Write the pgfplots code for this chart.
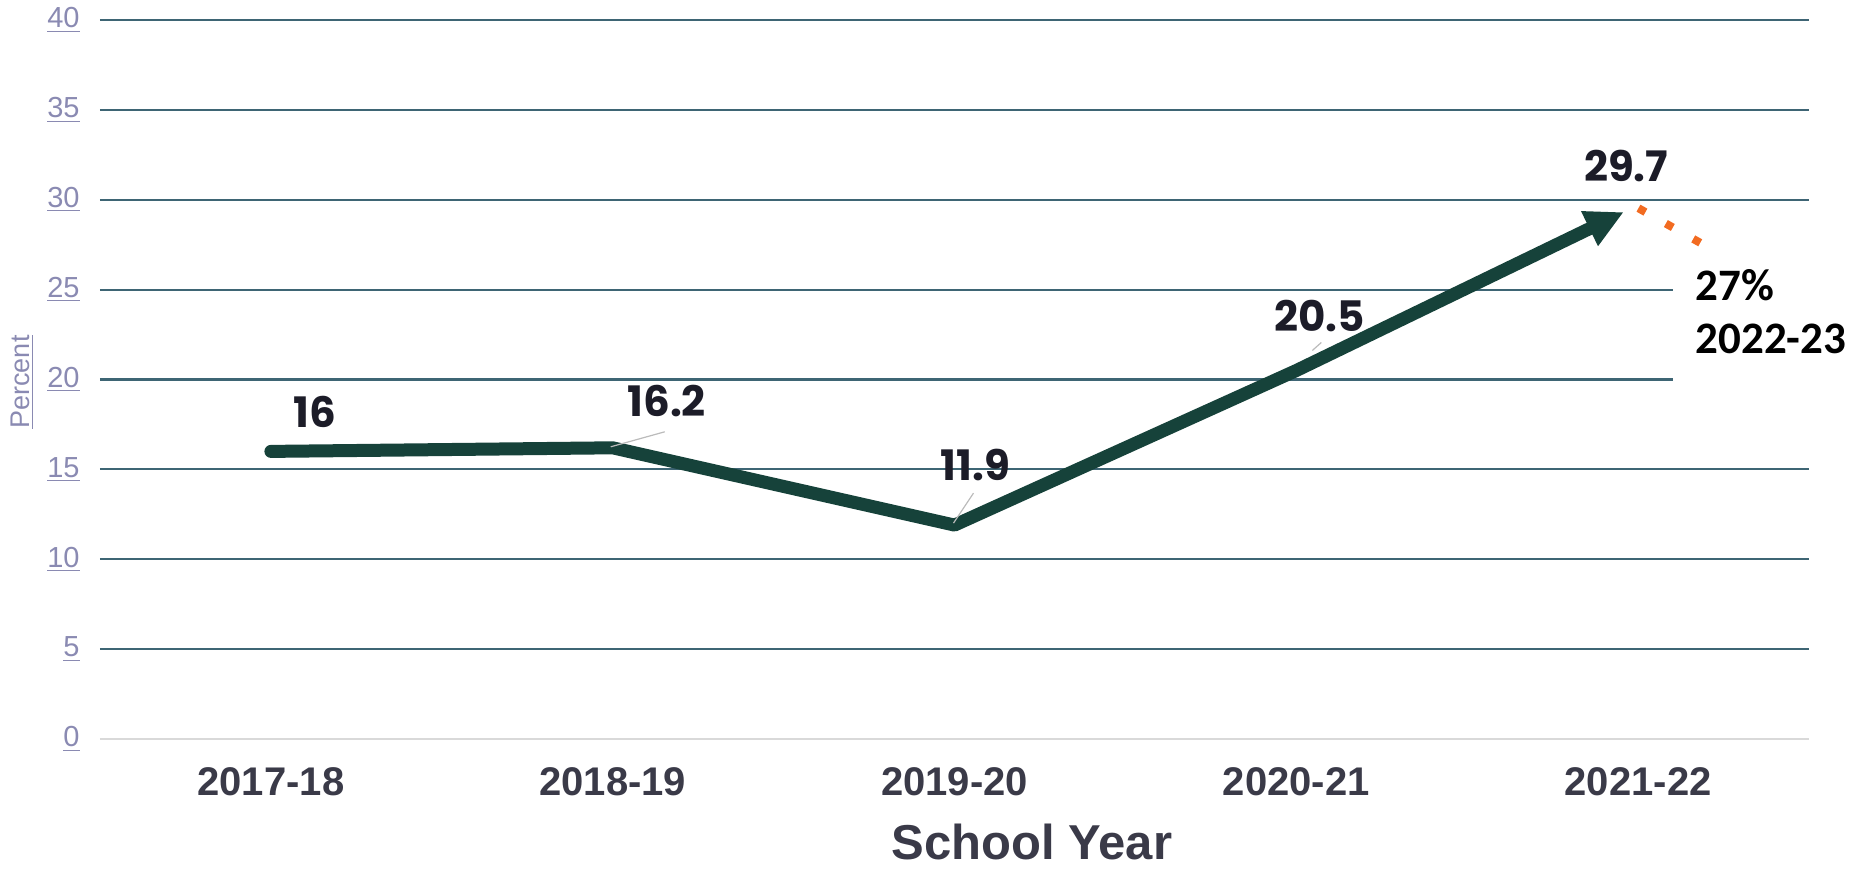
\documentclass[border=0pt]{standalone}
\usepackage{fontspec}
\setmainfont{Liberation Sans}
\newfontfamily\poppins{Poppins}
\newfontfamily\carlito{Carlito}
\usepackage{pgfplots}
\pgfplotsset{compat=1.18}
\usepackage{pgfplotstable}
\usetikzlibrary{arrows.meta}
\definecolor{linegreen}{HTML}{16423A}
\definecolor{gridteal}{HTML}{3E6574}
\definecolor{tickpurple}{HTML}{8A8AB2}
\definecolor{darktext}{HTML}{3A3A48}
\definecolor{orangedot}{HTML}{F26B21}
\definecolor{zeroline}{HTML}{D9D9D9}
\definecolor{leader}{HTML}{BBBBBB}
\definecolor{labelblack}{HTML}{1C1C28}

\pgfplotstableread{
x y dx dy
0 16 22 19.5
1 16.2 27 23.5
2 11.9 10.5 30
3 20.5 11.5 27.5
4 29.7 -6 19.5
}\yeardata

\pgfplotstableread{
x y
4.001 29.53
4.183 27.59
}\projdata

\begin{document}
\begin{tikzpicture}
\useasboundingbox (-50pt,-64.5pt) rectangle (875.5pt,369.5pt);
\begin{axis}[
  at={(0,0)}, anchor=south west,
  scale only axis, width=854.5pt, height=359.5pt,
  xmin=-0.5, xmax=4.5, ymin=0, ymax=40,
  axis line style={draw=none},
  major tick length=0pt,
  xtick={0,1,2,3,4},
  xticklabels={2017-18,2018-19,2019-20,2020-21,2021-22},
  xticklabel style={anchor=center, yshift=-21.25pt, font=\fontsize{20}{24}\selectfont\bfseries, text=darktext},
  ytick={5,10,...,40},
  extra y ticks={0},
  extra y tick style={grid style={draw=zeroline, line width=1pt}},
  ymajorgrids,
  grid style={draw=gridteal, line width=1.1pt},
  yticklabel={\underline{\pgfmathprintnumber{\tick}}},
  yticklabel style={anchor=east, inner sep=0pt, xshift=-10pt, font=\fontsize{14.5}{16}\selectfont, text=tickpurple},
  /pgf/number format/assume math mode=true,
  xlabel={School Year},
  every axis x label/.style={at={(rel axis cs:0.5,0)}, anchor=center, inner sep=0pt, xshift=38.75pt, yshift=-51.5pt, font=\fontsize{24.5}{30}\selectfont\bfseries, text=darktext},
  ylabel={\underline{Percent}},
  every axis y label/.style={at={(rel axis cs:0,0.5)}, xshift=-39pt, yshift=-1.25pt, rotate=90, anchor=center, font=\fontsize{13.5}{16}\selectfont, text=tickpurple},
  clip=false,
]
\fill[white] (axis cs:4.103,17) rectangle (axis cs:4.56,26);
\addplot[draw=linegreen, line width=6.5pt, line cap=round, line join=round,
  -{Triangle[width=18pt,length=19pt]}, shorten >=8pt,
  nodes near coords, point meta=y,
  visualization depends on=\thisrow{dx}\as\dx,
  visualization depends on=\thisrow{dy}\as\dy,
  nodes near coords style={anchor=center, xshift=\dx pt, yshift=\dy pt,
    font=\poppins\bfseries\fontsize{21}{24}\selectfont, text=labelblack}
] table[x=x,y=y]{\yeardata};
\addplot[draw=orangedot, line width=4pt, dash pattern=on 4pt off 11.7pt, line cap=butt] table[x=x,y=y]{\projdata};
\draw[leader, line width=0.6pt] (axis cs:1,16.2) ++(-1pt,0.5pt) -- ++(27pt,7.5pt);
\draw[leader, line width=0.6pt] (axis cs:2,11.9) ++(-0.5pt,1pt) -- ++(10pt,15pt);
\draw[leader, line width=0.6pt] (axis cs:3,20.5) ++(8pt,10pt) -- ++(4.5pt,4pt);
\node[anchor=base west, inner sep=0pt, font=\carlito\bfseries\fontsize{22.5}{27}\selectfont] at (axis cs:4.167,24.42) {27\%};
\node[anchor=base west, inner sep=0pt, font=\carlito\bfseries\fontsize{22.5}{27}\selectfont] at (axis cs:4.167,21.47) {2022-23};
\end{axis}
\end{tikzpicture}
\end{document}
